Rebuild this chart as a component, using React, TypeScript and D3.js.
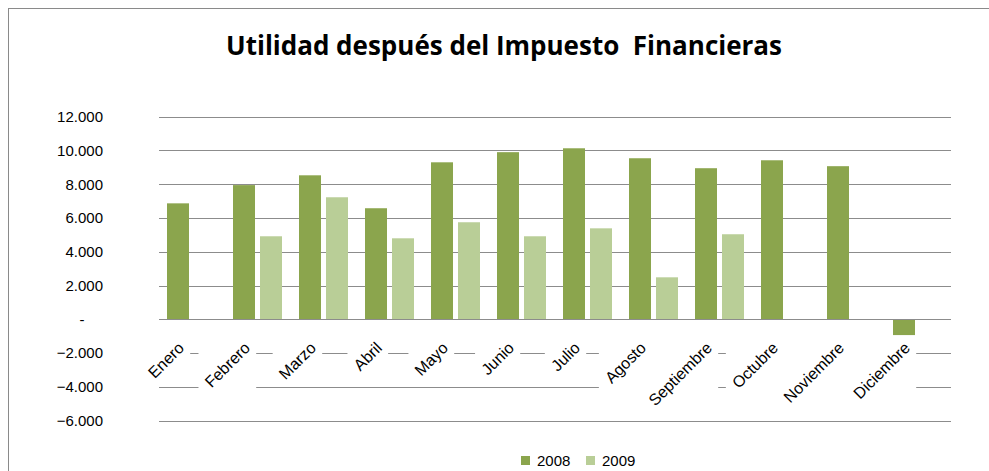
import React, { useEffect, useRef } from 'react';
import * as d3 from 'd3';

const months = [
  'Enero',
  'Febrero',
  'Marzo',
  'Abril',
  'Mayo',
  'Junio',
  'Julio',
  'Agosto',
  'Septiembre',
  'Octubre',
  'Noviembre',
  'Diciembre',
];

const seriesNames = ['2008', '2009'];

const values2008 = [6870, 7950, 8530, 6580, 9300, 9900, 10130, 9540, 8950, 9420, 9070, -930];
const values2009 = [null, 4920, 7230, 4800, 5750, 4920, 5390, 2490, 5040, null, null, null];

const yTicks = [-6000, -4000, -2000, 0, 2000, 4000, 6000, 8000, 10000, 12000];

const colors = ['#8ba54d', '#b9ce97'];

interface Bar {
  month: string;
  series: string;
  value: number;
}

export default function App() {
  const ref = useRef<SVGSVGElement>(null);

  useEffect(() => {
    const width = 989;
    const height = 471;
    const margin = { top: 116.7, bottom: 50.3, left: 159, right: 38 };

    const svg = d3.select(ref.current);
    svg.selectAll('*').remove();

    // chart frame (right and bottom edges fall outside the window)
    svg
      .append('rect')
      .attr('x', 8.5)
      .attr('y', 8.5)
      .attr('width', 1000)
      .attr('height', 500)
      .attr('fill', '#fff')
      .attr('stroke', '#8a8a8a')
      .attr('stroke-width', 1);

    svg
      .append('text')
      .attr('x', 504)
      .attr('y', 55)
      .attr('text-anchor', 'middle')
      .attr('font-family', '"Open Sans", Lato, sans-serif')
      .attr('font-weight', 'bold')
      .attr('font-size', 26)
      .style('white-space', 'pre')
      .text('Utilidad después del Impuesto  Financieras');

    const xScale = d3
      .scaleBand()
      .domain(months)
      .range([margin.left, width - margin.right])
      .padding(0);

    const xInner = d3
      .scaleBand()
      .domain(seriesNames)
      .range([8, 57])
      .paddingInner(0.185)
      .paddingOuter(0);

    const yScale = d3
      .scaleLinear()
      .domain([-6000, 12000])
      .range([height - margin.bottom, margin.top]);

    const colorScale = d3.scaleOrdinal<string, string>().domain(seriesNames).range(colors);

    const fmt = d3.formatLocale({
      decimal: ',',
      thousands: '.',
      grouping: [3],
      currency: ['', ''],
    }).format(',.0f');

    // gridlines
    svg
      .append('g')
      .selectAll('line')
      .data(yTicks)
      .enter()
      .append('line')
      .attr('x1', margin.left)
      .attr('x2', width - margin.right)
      .attr('y1', (d) => Math.round(yScale(d)) + 0.5)
      .attr('y2', (d) => Math.round(yScale(d)) + 0.5)
      .attr('stroke', '#8c8c8c')
      .attr('stroke-width', 1);

    // y tick labels
    svg
      .append('g')
      .selectAll('text')
      .data(yTicks)
      .enter()
      .append('text')
      .attr('x', (d) => (d === 0 ? 82 : 103))
      .attr('y', (d) => yScale(d))
      .attr('dy', '0.35em')
      .attr('text-anchor', (d) => (d === 0 ? 'middle' : 'end'))
      .attr('font-family', '"Liberation Sans", Arial, sans-serif')
      .attr('font-size', 15)
      .attr('fill', '#000')
      .text((d) => (d === 0 ? '-' : fmt(d)));

    // bars
    const bars: Bar[] = [];
    months.forEach((m, i) => {
      if (values2008[i] !== null) bars.push({ month: m, series: '2008', value: values2008[i] as number });
      if (values2009[i] !== null) bars.push({ month: m, series: '2009', value: values2009[i] as number });
    });

    svg
      .append('g')
      .selectAll('rect')
      .data(bars)
      .enter()
      .append('rect')
      .attr('x', (d) => (xScale(d.month) as number) + (xInner(d.series) as number))
      .attr('y', (d) => yScale(Math.max(0, d.value)))
      .attr('width', xInner.bandwidth())
      .attr('height', (d) => Math.abs(yScale(d.value) - yScale(0)))
      .attr('fill', (d) => colorScale(d.series));

    // zero line over the bars
    svg
      .append('line')
      .attr('x1', margin.left)
      .attr('x2', width - margin.right)
      .attr('y1', Math.round(yScale(0)) + 0.5)
      .attr('y2', Math.round(yScale(0)) + 0.5)
      .attr('stroke', '#8c8c8c');

    // category labels, each on a white box that hides the gridlines behind it
    const labelLayer = svg.append('g');
    const boxLayer = labelLayer.append('g');
    const labels = labelLayer
      .append('g')
      .selectAll('text')
      .data(months)
      .enter()
      .append('text')
      .attr('text-anchor', 'end')
      .attr('font-family', '"Liberation Sans", Arial, sans-serif')
      .attr('font-size', 16)
      .attr('fill', '#000')
      .attr('transform', (d) => {
        const x = (xScale(d) as number) + xScale.bandwidth() / 2 - 7;
        return `translate(${x}, 349) rotate(-45)`;
      })
      .text((d) => d);

    const svgRect = (ref.current as SVGSVGElement).getBoundingClientRect();
    labels.each(function () {
      const r = (this as SVGTextElement).getBoundingClientRect();
      boxLayer
        .append('rect')
        .attr('x', r.left - svgRect.left - 3)
        .attr('y', r.top - svgRect.top - 2)
        .attr('width', r.width + 6)
        .attr('height', r.height + 4)
        .attr('fill', '#fff');
    });

    // legend
    const legend = svg
      .append('g')
      .selectAll('g')
      .data(seriesNames)
      .enter()
      .append('g')
      .attr('transform', (d, i) => `translate(${521 + i * 65}, 456)`);

    legend
      .append('rect')
      .attr('width', 9)
      .attr('height', 9)
      .attr('fill', (d) => colorScale(d));

    legend
      .append('text')
      .attr('x', 16)
      .attr('y', 10)
      .attr('font-family', '"Liberation Sans", Arial, sans-serif')
      .attr('font-size', 15)
      .attr('fill', '#000')
      .text((d) => d);
  }, []);

  return (
    <svg
      ref={ref}
      width={989}
      height={471}
      style={{ position: 'absolute', left: 0, top: 0, display: 'block' }}
    ></svg>
  );
}
